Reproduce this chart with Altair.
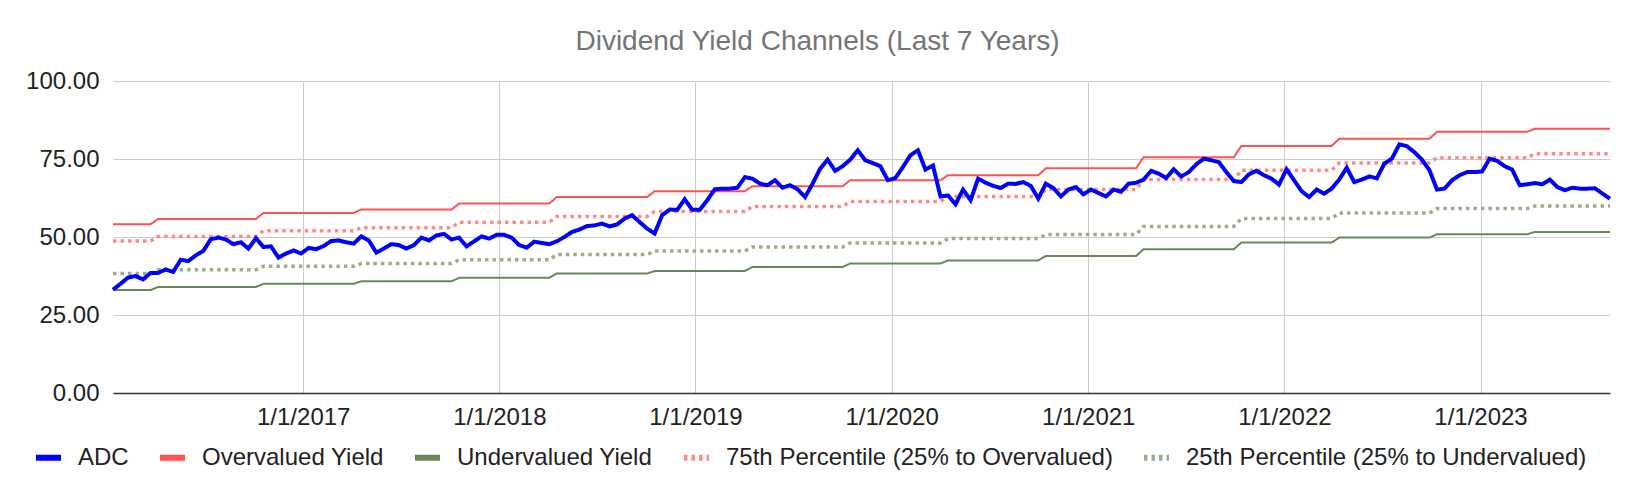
import altair as alt
import pandas as pd

START_DATE = "2016-01-13"
STEP = "14D"

ADC = [
    33.1, 35.0, 37.0, 37.5, 36.4, 38.5, 38.5, 39.6, 38.8, 42.7,
    42.3, 44.1, 45.5, 49.3, 49.8, 49.2, 47.7, 48.3, 46.3, 49.6,
    46.8, 47.0, 43.4, 44.7, 45.7, 44.7, 46.5, 46.1, 47.1, 48.7,
    48.9, 48.3, 47.9, 50.2, 48.9, 45.0, 46.3, 47.7, 47.4, 46.3,
    47.4, 49.8, 48.9, 50.5, 51.0, 49.2, 49.8, 47.0, 48.6, 50.2,
    49.5, 50.7, 50.7, 49.8, 47.4, 46.6, 48.5, 48.1, 47.7, 48.6,
    50.0, 51.6, 52.4, 53.5, 53.7, 54.3, 53.4, 54.0, 55.9, 57.0,
    54.8, 52.7, 51.1, 57.0, 58.8, 58.7, 62.1, 58.7, 58.7, 61.8,
    65.3, 65.5, 65.5, 65.8, 69.2, 68.7, 67.1, 66.6, 68.2, 65.8,
    66.6, 65.3, 62.8, 67.1, 71.9, 74.8, 71.2, 72.7, 74.8, 77.8,
    74.6, 73.7, 72.7, 68.2, 68.9, 72.4, 76.2, 77.8, 71.6, 72.9,
    63.0, 63.3, 60.5, 65.2, 61.8, 68.7, 67.4, 66.4, 65.7, 67.1,
    67.0, 67.6, 66.4, 62.3, 67.1, 65.7, 63.0, 65.2, 66.0, 63.7,
    65.2, 64.1, 63.0, 65.2, 64.5, 67.1, 67.4, 68.4, 71.2, 70.3,
    68.9, 71.7, 69.4, 70.8, 73.3, 75.1, 74.6, 74.0, 70.8, 67.9,
    67.6, 70.1, 71.2, 69.8, 68.7, 66.8, 71.7, 68.2, 64.7, 62.8,
    65.2, 63.9, 65.5, 68.4, 72.2, 67.6, 68.4, 69.4, 68.8, 73.5,
    75.1, 79.7, 79.1, 77.2, 74.8, 71.4, 65.2, 65.5, 68.2, 69.8,
    70.8, 70.8, 71.0, 75.1, 74.4, 72.7, 71.6, 66.6, 66.9, 67.3,
    66.9, 68.4, 66.0, 65.0, 65.8, 65.5, 65.5, 65.6, 63.9, 62.3,
]

SEG_START = [0, 6, 20, 33, 46, 59, 72, 85, 98, 111, 124, 137, 150, 163, 176, 189]
OVERVALUED = [54.1, 55.8, 57.7, 58.8, 60.7, 62.8, 64.7, 66.3, 68.2, 69.8, 72.0, 75.6, 79.2, 81.5, 83.7, 84.7]
UNDERVALUED = [33.0, 34.0, 35.0, 35.8, 36.9, 38.3, 39.1, 40.4, 41.5, 42.5, 43.9, 46.1, 48.2, 49.8, 50.9, 51.6]
P75 = [48.7, 50.2, 52.0, 53.0, 54.7, 56.6, 58.2, 59.8, 61.4, 63.0, 65.2, 68.4, 71.4, 73.7, 75.4, 76.7]
P25 = [38.3, 39.5, 40.6, 41.5, 42.7, 44.4, 45.5, 46.8, 48.1, 49.5, 50.8, 53.4, 55.9, 57.7, 59.1, 59.9]

SERIES = [
    "ADC",
    "Overvalued Yield",
    "Undervalued Yield",
    "75th Percentile (25% to Overvalued)",
    "25th Percentile (25% to Undervalued)",
]
COLORS = ["#0000ff", "#ff5252", "#6a8759", "#ff8a8a", "#9aae8e"]
DASHES = [[1, 0], [1, 0], [1, 0], [3.5, 4], [3.5, 4]]
YEAR_TICKS = [2017, 2018, 2019, 2020, 2021, 2022, 2023]
FONT = "Liberation Sans"

dates = pd.date_range(START_DATE, periods=len(ADC), freq=STEP)


def expand(levels):
    bounds = SEG_START + [len(ADC)]
    out = []
    for i, lv in enumerate(levels):
        out += [lv] * (bounds[i + 1] - bounds[i])
    return out


rows = []
for name, vals in zip(SERIES, [ADC, expand(OVERVALUED), expand(UNDERVALUED), expand(P75), expand(P25)]):
    for d, v in zip(dates, vals):
        rows.append({"date": d, "value": v, "series": name})
df = pd.DataFrame(rows)

legend = alt.Legend(
    title=None,
    orient="none",
    legendX=-80,
    legendY=361,
    direction="horizontal",
    columns=5,
    symbolType="stroke",
    symbolSize=625,
    symbolStrokeWidth=6,
    labelFont=FONT,
    labelFontSize=24,
    labelColor="#222222",
    labelOffset=14,
    columnPadding=19,
    labelLimit=800,
)

base = alt.Chart(df).encode(
    x=alt.X(
        "date:T",
        title=None,
        scale=alt.Scale(nice=False, padding=0),
        axis=alt.Axis(
            values=[alt.DateTime(year=y, month=1, date=1) for y in YEAR_TICKS],
            format="%-m/%-d/%Y",
            grid=True,
            domain=True,
            domainColor="#333333",
            domainWidth=1.5,
            labelPadding=12,
        ),
    ),
    y=alt.Y(
        "value:Q",
        title=None,
        scale=alt.Scale(domain=[0, 100], nice=False),
        axis=alt.Axis(values=[0, 25, 50, 75, 100], format=".2f", labelPadding=14, domain=False),
    ),
    color=alt.Color("series:N", scale=alt.Scale(domain=SERIES, range=COLORS), legend=legend),
    strokeDash=alt.StrokeDash("series:N", scale=alt.Scale(domain=SERIES, range=DASHES), legend=legend),
)

dotted = base.transform_filter(
    alt.FieldOneOfPredicate(field="series", oneOf=SERIES[3:5])
).mark_line(strokeWidth=3.5)
solid = base.transform_filter(
    alt.FieldOneOfPredicate(field="series", oneOf=SERIES[1:3])
).mark_line(strokeWidth=2)
adc = base.transform_filter(
    alt.FieldEqualPredicate(field="series", equal="ADC")
).mark_line(strokeWidth=4)

chart = (
    alt.layer(dotted, solid, adc)
    .properties(
        width=1497,
        height=312,
        title=alt.TitleParams(
            text="Dividend Yield Channels (Last 7 Years)",
            font=FONT,
            fontSize=28,
            fontWeight="normal",
            color="#757575",
            anchor="middle",
            frame="group",
            baseline="middle",
            offset=-1,
            dx=-44,
        ),
        padding={"left": 105, "top": 73, "right": 10, "bottom": 93},
        autosize=alt.AutoSizeParams(type="none"),
    )
    .configure_view(stroke=None)
    .configure_axis(
        labelFont=FONT,
        labelFontSize=24,
        labelColor="#222222",
        gridColor="#cccccc",
        gridWidth=1,
        ticks=False,
    )
)

chart.save("out.html", embed_options={"renderer": "svg", "actions": False})
